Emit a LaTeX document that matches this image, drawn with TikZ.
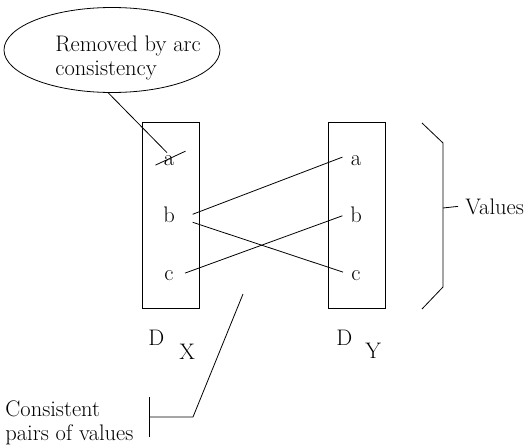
\documentclass[tikz,border=0pt]{standalone}
\usetikzlibrary{shapes.geometric,calc}
\begin{document}
\begin{tikzpicture}[x=1pt,y=-1pt,line width=0.8pt,
  every node/.style={inner sep=0pt,font=\fontsize{22.5}{24}\selectfont},
  letter/.style={anchor=base},
  dombox/.style={draw,minimum width=57pt,minimum height=186pt},
  lbl/.style={align=left,anchor=north west}]
\useasboundingbox (0,0) rectangle (529,444);
% callout ellipse
\node[draw,ellipse,minimum width=216pt,minimum height=85pt] (ell) at (112,50) {};
\node[lbl] (elltext) at (55,35) {Removed by arc\\consistency};
% domain boxes
\node[dombox] (dxbox) at (170.5,215) {};
\node[dombox] (dybox) at (356.5,215) {};
% values
\node[letter] (la) at (169,165) {a};
\node[letter] (lb) at (169,222) {b};
\node[letter] (lc) at (169,280) {c};
\node[letter] (ra) at (356,165) {a};
\node[letter] (rb) at (356,222) {b};
\node[letter] (rc) at (356,280) {c};
% domain labels
\node[anchor=base west] (dx) at (148,345) {D};
\node[anchor=base west] (dxs) at (179,359) {X};
\node[anchor=base west] (dy) at (336,345) {D};
\node[anchor=base west] (dys) at (365,358) {Y};
% consistent pairs
\draw ($(lb.east)+(17.5,0)$) -- ($(ra.west)+(-8,-3)$);
\draw ($(lb.east)+(17.5,8)$) -- ($(rc.west)+(-8,-3)$);
\draw ($(lc.east)+(11,-2)$) -- ($(rb.west)+(-7.5,1.5)$);
% strike through removed value and callout line
\draw ($(la.west)+(-8,5)$) -- ($(la.east)+(11,-9)$);
\draw (ell.265) -- ($(la.north)+(-2,-2)$);
% values bracket
\node[anchor=base west] (val) at (465,214) {Values};
\coordinate (bt1) at (422,123);
\coordinate (bt2) at (443,143);
\coordinate (bb2) at (443,287);
\coordinate (bb1) at (422,309);
\coordinate (bmid) at (443,208);
\draw (bt1) -- (bt2) -- (bb2) -- (bb1);
\draw (bmid) -- ($(val.west)+(-7,0)$);
% consistent pairs label
\node[lbl] (cons) at (5,400) {Consistent\\pairs of values};
\coordinate (cp1) at (243,294);
\coordinate (cp2) at (193,417);
\coordinate (cp3) at (149,417);
\coordinate (ct1) at (149,397);
\coordinate (ct2) at (149,437);
\draw (cp1) -- (cp2) -- (cp3);
\draw (ct1) -- (ct2);
\end{tikzpicture}
\end{document}
